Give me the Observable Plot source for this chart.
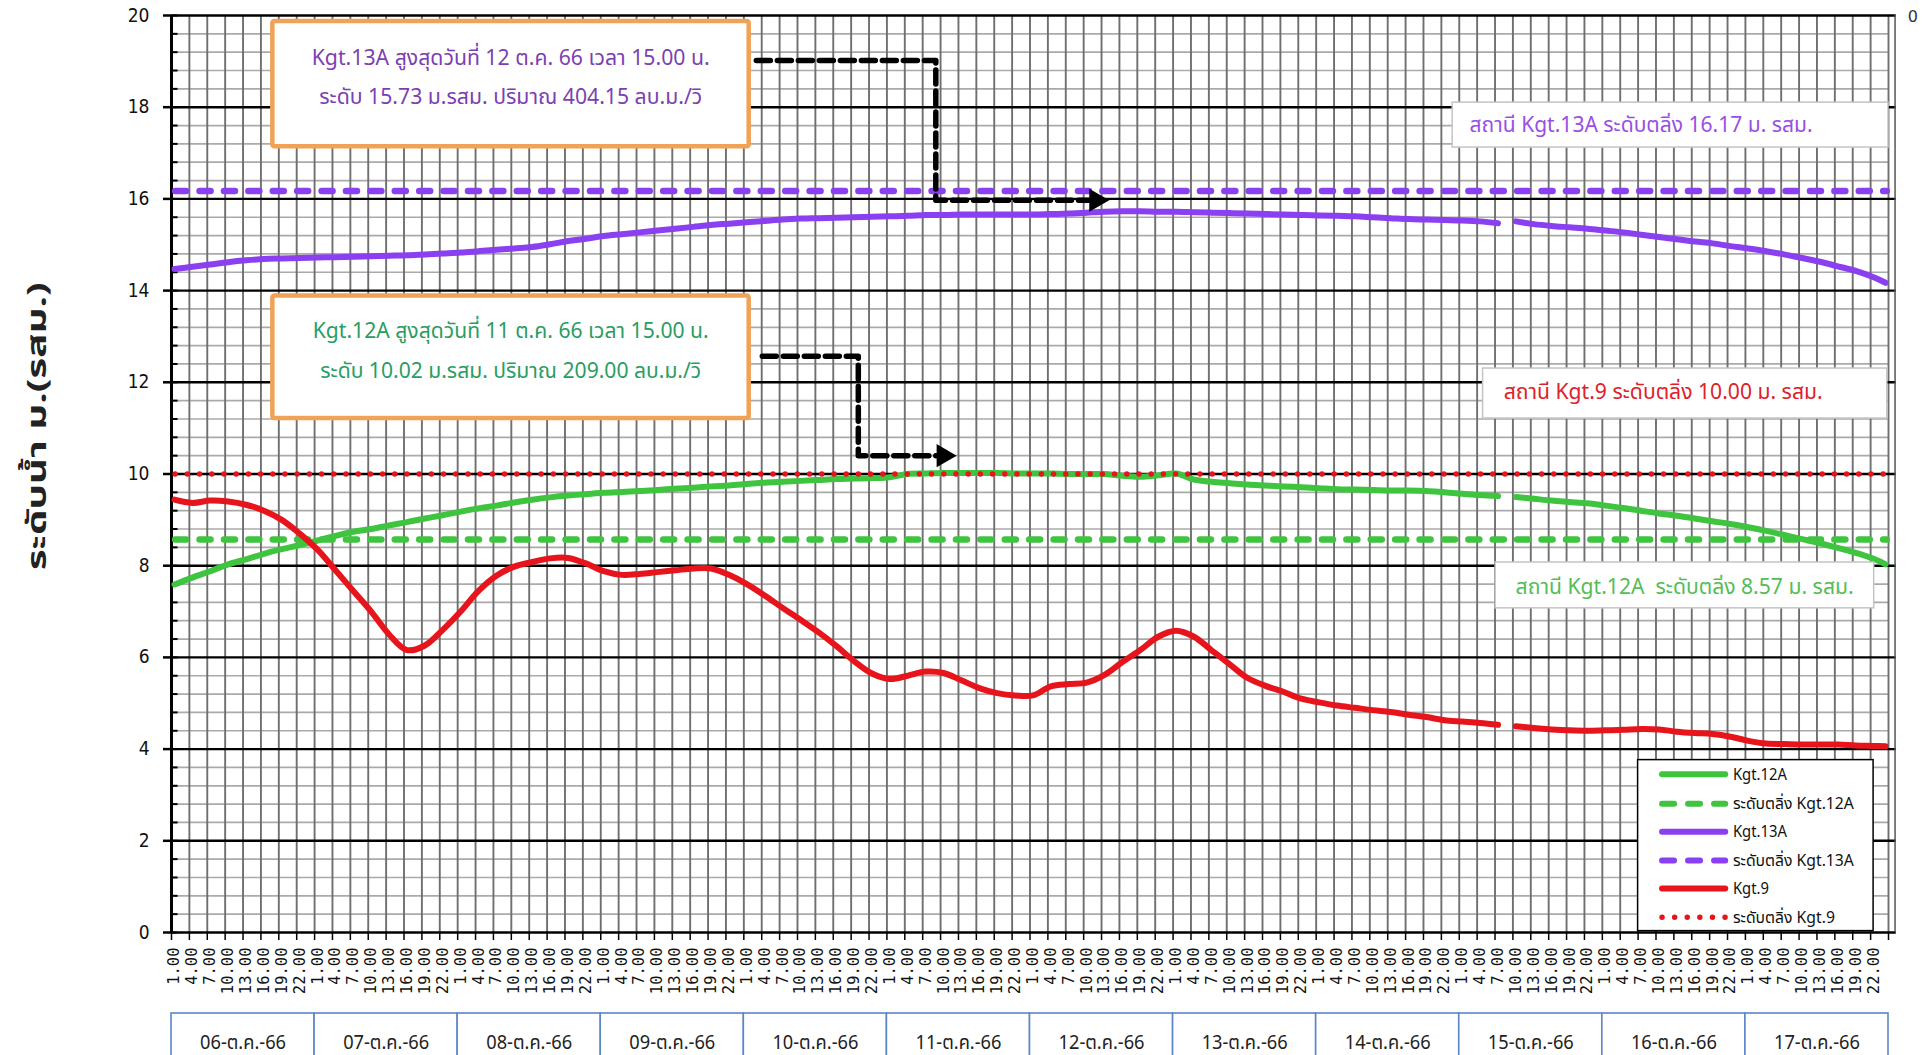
<!DOCTYPE html>
<html>
<head>
<meta charset="utf-8">
<script src="https://cdn.jsdelivr.net/npm/d3@7"></script>
<script src="https://cdn.jsdelivr.net/npm/@observablehq/plot@0.6"></script>
<style>
html,body{margin:0;padding:0;background:#fff;overflow:hidden;}
#chart{width:1922px;height:1055px;}
</style>
</head>
<body>
<div id="chart"></div>
<script>
// ---------- data ----------
const dates = ["06-ต.ค.-66","07-ต.ค.-66","08-ต.ค.-66","09-ต.ค.-66","10-ต.ค.-66","11-ต.ค.-66",
               "12-ต.ค.-66","13-ต.ค.-66","14-ต.ค.-66","15-ต.ค.-66","16-ต.ค.-66","17-ต.ค.-66"];
const hourLabels = ["1.00","4.00","7.00","10.00","13.00","16.00","19.00","22.00"];

// water levels (m. MSL) every 3 hours from 06-Oct 1.00 to 17-Oct 22.00, plus last reading (24.00)
const kgt12A = [7.59,7.74,7.88,8.03,8.14,8.26,8.36,8.45,
  8.55,8.65,8.74,8.80,8.88,8.95,9.03,9.10,
  9.18,9.25,9.31,9.38,9.44,9.49,9.53,9.56,
  9.59,9.61,9.63,9.65,9.68,9.70,9.73,9.75,
  9.78,9.81,9.83,9.85,9.87,9.89,9.90,9.91,
  9.93,10.00,10.01,10.02,10.02,10.02,10.02,10.01,
  10.01,10.01,10.00,10.00,10.00,9.96,9.94,9.97,
  10.01,9.88,9.83,9.80,9.77,9.75,9.73,9.71,
  9.69,9.67,9.66,9.65,9.64,9.64,9.63,9.60,
  9.57,9.54,9.52,9.50,9.46,9.42,9.39,9.36,
  9.31,9.26,9.20,9.14,9.09,9.03,8.97,8.91,
  8.84,8.76,8.67,8.58,8.49,8.39,8.28,8.15,
  8.03];
const kgt13A = [14.47,14.52,14.57,14.62,14.66,14.69,14.70,14.71,
  14.72,14.73,14.74,14.75,14.76,14.77,14.79,14.81,
  14.83,14.86,14.89,14.92,14.95,15.01,15.08,15.13,
  15.19,15.23,15.27,15.31,15.35,15.39,15.43,15.46,
  15.49,15.52,15.55,15.57,15.58,15.59,15.60,15.61,
  15.62,15.63,15.65,15.65,15.66,15.66,15.66,15.66,
  15.66,15.67,15.68,15.70,15.72,15.73,15.73,15.72,
  15.72,15.71,15.70,15.69,15.68,15.67,15.66,15.65,
  15.64,15.63,15.62,15.60,15.58,15.56,15.55,15.54,
  15.53,15.51,15.47,15.51,15.45,15.41,15.38,15.35,
  15.31,15.27,15.22,15.17,15.12,15.07,15.03,14.97,
  14.92,14.86,14.79,14.71,14.63,14.53,14.43,14.29,
  14.17];
const kgt9 = [9.44,9.37,9.42,9.40,9.33,9.20,9.00,8.70,
  8.35,7.90,7.45,7.00,6.50,6.16,6.26,6.60,
  7.00,7.45,7.78,7.98,8.08,8.16,8.17,8.05,
  7.88,7.80,7.82,7.86,7.90,7.94,7.94,7.80,
  7.60,7.35,7.08,6.82,6.55,6.25,5.92,5.65,
  5.53,5.60,5.69,5.66,5.50,5.33,5.22,5.17,
  5.17,5.37,5.42,5.45,5.62,5.90,6.16,6.45,
  6.58,6.45,6.15,5.85,5.55,5.38,5.25,5.10,
  5.02,4.95,4.90,4.85,4.81,4.75,4.70,4.63,
  4.60,4.57,4.53,4.50,4.46,4.43,4.41,4.40,
  4.41,4.42,4.44,4.43,4.38,4.35,4.33,4.27,
  4.18,4.12,4.11,4.10,4.10,4.10,4.08,4.07,
  4.06];
const missingAfter = 74; // one reading missing on 15-Oct around 9.00

const bankKgt12A = 8.57;
const bankKgt13A = 16.17;
const bankKgt9 = 10.00;

const seriesNames = ["Kgt.12A","Kgt.13A","Kgt.9"];
const legendLabels = ["Kgt.12A","ระดับตลิ่ง Kgt.12A","Kgt.13A","ระดับตลิ่ง Kgt.13A","Kgt.9","ระดับตลิ่ง Kgt.9"];

const peakNotes = [
  ["Kgt.13A สูงสุดวันที่ 12 ต.ค. 66 เวลา 15.00 น.", "ระดับ 15.73 ม.รสม. ปริมาณ 404.15 ลบ.ม./วิ"],
  ["Kgt.12A สูงสุดวันที่ 11 ต.ค. 66 เวลา 15.00 น.", "ระดับ 10.02 ม.รสม. ปริมาณ 209.00 ลบ.ม./วิ"]
];
const bankNotes = ["สถานี Kgt.13A ระดับตลิ่ง 16.17 ม. รสม.",
                   "สถานี Kgt.9 ระดับตลิ่ง 10.00 ม. รสม.",
                   "สถานี Kgt.12A\u00a0 ระดับตลิ่ง 8.57 ม. รสม."];
const yTitle = "ระดับน้ำ ม.(รสม.)";

// ---------- styling ----------
const C12 = "#3ec43e", C13 = "#8a3ff0", C9 = "#e8141c";
const THAI = "'Noto Sans Thai','Tahoma','DejaVu Sans Condensed','DejaVu Sans',sans-serif";

const hourOf = i => i < 96 ? 3 * i : 287;
const toRows = (name, vals) => vals.map((v, i) => ({name, h: hourOf(i), v, part: i <= missingAfter ? 0 : 1}));
const rows12 = toRows(seriesNames[0], kgt12A);
const rows13 = toRows(seriesNames[1], kgt13A);
const rows9 = toRows(seriesNames[2], kgt9);

const gridH = d3.range(97).map(k => 3 * k - 0.5);
const labelH = d3.range(96).map(k => 3 * k);
const majorY = d3.range(0, 21, 2);
const allMinor = d3.range(51).map(i => +(i * 0.4).toFixed(1));
const minorY = allMinor.filter(v => Math.abs(v / 2 - Math.round(v / 2)) > 1e-6);

const days = dates.map((d, i) => ({label: d, h1: 24 * i - 0.5, h2: 24 * (i + 1) - 0.5, hc: 24 * i + 11.5}));

// annotation layout (in chart units: hours / metres)
const peakBoxes = [
  {x1: 16.5, x2: 96.4, y1: 17.14, y2: 19.87, color: "#7b3fb3", hc: 56.4, l1: 19.07, l2: 18.22, t: peakNotes[0]},
  {x1: 16.5, x2: 96.4, y1: 11.21, y2: 13.88, color: "#2a9d62", hc: 56.4, l1: 13.11, l2: 12.25, t: peakNotes[1]}
];
const bankBoxes = [
  {x1: 214.4, x2: 287.5, y1: 17.12, y2: 18.10, hc: 246.0, vc: 17.60, color: "#9a4ee6", t: bankNotes[0]},
  {x1: 219.5, x2: 287.3, y1: 11.21, y2: 12.30, hc: 249.7, vc: 11.78, color: "#e0202a", t: bankNotes[1]},
  {x1: 221.6, x2: 285.1, y1: 7.07, y2: 8.07, hc: 253.3, vc: 7.52, color: "#55bd55", t: bankNotes[2]}
];
const arrowPaths = [
  {id: 1, pts: [[97.6, 19.02], [127.7, 19.02], [127.7, 15.97], [153.4, 15.97]], tip: [156.8, 15.97]},
  {id: 2, pts: [[98.6, 12.57], [114.7, 12.57], [114.7, 10.40], [127.8, 10.40]], tip: [131.2, 10.40]}
];
const arrowRows = arrowPaths.flatMap(a => a.pts.map(p => ({id: a.id, h: p[0], v: p[1]})));

const legendRowsV = [3.45, 2.81, 2.20, 1.57, 0.96, 0.33];
const legendItems = legendLabels.map((l, i) => ({label: l, v: legendRowsV[i],
  color: [C12, C12, C13, C13, C9, C9][i], kind: ["solid","dash","solid","dash","solid","dot"][i]}));

const plot = Plot.plot({
  width: 1922, height: 1055,
  marginLeft: 171, marginRight: 34, marginTop: 15, marginBottom: 123,
  style: {background: "white", overflow: "visible"},
  x: {type: "linear", domain: [-0.5, 287.5], label: null},
  y: {domain: [0, 20], label: null},
  marks: [
    // grid
    Plot.ruleY(minorY, {x1: -0.5, x2: 287.5, stroke: "#aaaaaa", strokeWidth: 1.7}),
    Plot.ruleX(gridH, {y1: 0, y2: 20, stroke: "#6f6f6f", strokeWidth: 1.9}),
    Plot.ruleY(majorY, {x1: -0.5, x2: 288.8, stroke: "#000", strokeWidth: 2.4}),
    Plot.ruleX([288.6], {y1: 0, y2: 20, stroke: "#555", strokeWidth: 1.5}),
    Plot.ruleX([-0.5], {y1: 0, y2: 20, stroke: "#000", strokeWidth: 3}),
    Plot.ruleY(allMinor, {x1: -0.5, x2: 0.6, stroke: "#000", strokeWidth: 2}),
    // bank levels
    Plot.ruleY([bankKgt12A], {x1: 0.2, x2: 287.3, stroke: C12, strokeWidth: 6.5, strokeDasharray: "11 13.4", strokeLinecap: "round"}),
    Plot.ruleY([bankKgt13A], {x1: 0.2, x2: 287.3, stroke: C13, strokeWidth: 6.5, strokeDasharray: "11 13.4", strokeLinecap: "round"}),
    // series
    Plot.line(rows12, {x: "h", y: "v", z: "part", stroke: C12, strokeWidth: 6, curve: "catmull-rom"}),
    Plot.line(rows13, {x: "h", y: "v", z: "part", stroke: C13, strokeWidth: 6, curve: "catmull-rom"}),
    Plot.line(rows9, {x: "h", y: "v", z: "part", stroke: C9, strokeWidth: 6, curve: "catmull-rom"}),
    Plot.ruleY([bankKgt9], {x1: 0.2, x2: 287.3, stroke: C9, strokeWidth: 5.5, strokeDasharray: "0 12.2", strokeLinecap: "round"}),
    // peak annotation boxes
    Plot.rect(peakBoxes, {x1: "x1", x2: "x2", y1: "y1", y2: "y2", fill: "white", stroke: "#f0a257", strokeWidth: 4.5, rx: 2}),
    Plot.text(peakBoxes, {x: "hc", y: "l1", text: d => d.t[0], fill: "color", fontSize: 22, fontFamily: THAI}),
    Plot.text(peakBoxes, {x: "hc", y: "l2", text: d => d.t[1], fill: "color", fontSize: 22, fontFamily: THAI}),
    // arrows
    Plot.line(arrowRows, {x: "h", y: "v", z: "id", stroke: "#000", strokeWidth: 5.5, strokeDasharray: "14 7", curve: "linear"}),
    Plot.dot(arrowPaths, {x: d => d.tip[0] - 2.24, y: d => d.tip[1], symbol: "triangle", r: 8.6, rotate: 90, fill: "#000", stroke: null}),
    // bank labels
    Plot.rect(bankBoxes, {x1: "x1", x2: "x2", y1: "y1", y2: "y2", fill: "white", stroke: "#c4c4c4", strokeWidth: 1.5}),
    Plot.text(bankBoxes, {x: "hc", y: "vc", text: "t", fill: "color", fontSize: 21, fontFamily: THAI}),
    // legend
    Plot.rect([0], {x1: 245.5, x2: 285.0, y1: 0.03, y2: 3.76, fill: "white", stroke: "#000", strokeWidth: 1.5}),
    Plot.ruleY(legendItems.filter(d => d.kind === "solid"), {y: "v", x1: 249.6, x2: 260.2, stroke: "color", strokeWidth: 6, strokeLinecap: "round"}),
    Plot.ruleY(legendItems.filter(d => d.kind === "dash"), {y: "v", x1: 249.6, x2: 260.2, stroke: "color", strokeWidth: 6, strokeDasharray: "12 14", strokeLinecap: "round"}),
    Plot.ruleY(legendItems.filter(d => d.kind === "dot"), {y: "v", x1: 249.6, x2: 260.4, stroke: "color", strokeWidth: 5.5, strokeDasharray: "0 12.6", strokeLinecap: "round"}),
    Plot.text(legendItems, {x: 261.4, y: "v", text: "label", textAnchor: "start", fill: "#111", fontSize: 16.5, fontFamily: THAI}),
    // axes
    Plot.axisY(majorY, {tickSize: 8, tickPadding: 14, fontSize: 19, strokeWidth: 2.5, fontFamily: "'DejaVu Sans Condensed','DejaVu Sans',sans-serif", fill: "#111", label: null}),
    Plot.axisX(gridH, {tickSize: 8, tickFormat: () => "", strokeWidth: 1.5, label: null}),
    Plot.axisX(labelH, {tickSize: 0, tickPadding: 15, tickRotate: -90, tickFormat: h => hourLabels[(h / 3) % 8],
      fontSize: 15.5, fontFamily: "'DejaVu Sans Mono',monospace", fill: "#111", label: null}),
    Plot.text([yTitle], {x: -23, y: 11.04, text: d => d, rotate: -90, fontSize: 27, fontWeight: "bold", fill: "#222", fontFamily: THAI}),
    Plot.text(["0"], {x: 291.6, y: 19.98, text: d => d, fontSize: 16, fill: "#333", fontFamily: "'DejaVu Sans',sans-serif"}),
    // date boxes under the hour labels
    Plot.rect(days, {x1: "h1", x2: "h2", y1: -3.0, y2: -1.767, fill: "white", stroke: "#5b87c5", strokeWidth: 1.6}),
    Plot.text(days, {x: "hc", y: -2.4, text: "label", fontSize: 19, fill: "#222", fontFamily: THAI})
  ]
});
document.getElementById("chart").appendChild(plot);

// fit text widths to the reference
const targetWidths = new Map([
  [peakNotes[0][0], 398], [peakNotes[0][1], 383],
  [peakNotes[1][0], 396], [peakNotes[1][1], 381],
  [bankNotes[0], 343], [bankNotes[1], 319], [bankNotes[2], 338],
  [yTitle, 288],
  ["Kgt.12A", 54], ["ระดับตลิ่ง Kgt.12A", 121], ["Kgt.13A", 54], ["ระดับตลิ่ง Kgt.13A", 121],
  ["Kgt.9", 36], ["ระดับตลิ่ง Kgt.9", 102]
]);
dates.forEach(d => targetWidths.set(d, 86));
d3.select(plot).selectAll("text").each(function() {
  const t = this.textContent;
  if (targetWidths.has(t)) {
    this.setAttribute("textLength", targetWidths.get(t));
    this.setAttribute("lengthAdjust", "spacingAndGlyphs");
  }
});
</script>
</body>
</html>
